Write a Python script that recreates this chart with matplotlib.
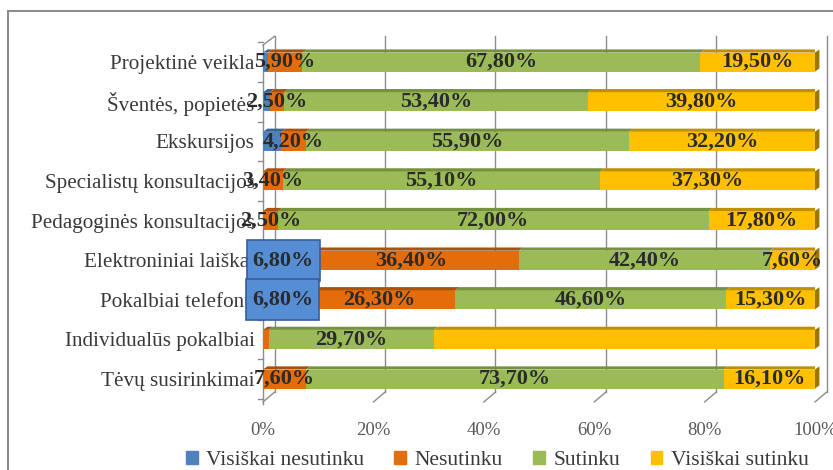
import matplotlib.pyplot as plt
import numpy as np
from matplotlib.patches import Polygon, Rectangle

categories = ['Projektinė veikla', 'Šventės, popietės', 'Ekskursijos',
              'Specialistų konsultacijos', 'Pedagoginės konsultacijos',
              'Elektroniniai laiškai', 'Pokalbiai telefonu',
              'Individualūs pokalbiai', 'Tėvų susirinkimai']
series = ['Visiškai nesutinku', 'Nesutinku', 'Sutinku', 'Visiškai sutinku']
visiskai_nesutinku = [0.8, 1.2, 3.2, 0.0, 0.0, 6.8, 6.8, 0.0, 0.0]
nesutinku = [5.9, 2.5, 4.2, 3.4, 2.5, 36.4, 26.3, 1.0, 7.6]
sutinku = [67.8, 53.4, 55.9, 55.1, 72.0, 42.4, 46.6, 29.7, 73.7]
visiskai_sutinku = [19.5, 39.8, 32.2, 37.3, 17.8, 7.6, 15.3, 68.6, 16.1]
x_ticks = [0, 20, 40, 60, 80, 100]

# labels that the original shows in a filled box / hides
boxed = ['Elektroniniai laiškai', 'Pokalbiai telefonu']
hidden = [('Individualūs pokalbiai', 'Visiškai sutinku')]

face_colors = ['#4F81BD', '#E46C0A', '#9BBB59', '#FFC000']
top_colors = ['#3A6298', '#A9520A', '#76923C', '#BF9000']
grid_color = '#8C8C8C'
label_color = '#2B2B2B'
serif = 'Liberation Serif'

values = np.array([visiskai_nesutinku, nesutinku, sutinku, visiskai_sutinku])
pct = values / values.sum(axis=0) * 100
n = len(categories)
ypos = np.arange(n)[::-1]

fig = plt.figure(figsize=(8.33, 4.70), dpi=100)
ax = fig.add_axes([263 / 833, 0.143, 552 / 833, 0.7797])
ax.set_xlim(0, 100)
ax.set_ylim(-0.6, 8.65)
for s in ax.spines.values():
    s.set_visible(False)

# back wall, floor and left wall
wall_dx = 2.1
floor_front, floor_back, wall_top = -0.58, -0.33, 8.65
for t in x_ticks:
    ax.plot([t + wall_dx, t + wall_dx], [floor_back, wall_top],
            color=grid_color, lw=1, zorder=0, clip_on=False)
    ax.plot([t, t + wall_dx], [floor_front, floor_back],
            color=grid_color, lw=1, zorder=0, clip_on=False)
ax.plot([0, 0], [floor_front - 0.05, wall_top - 0.22],
        color=grid_color, lw=1, zorder=0, clip_on=False)
ax.plot([0, wall_dx], [wall_top - 0.22, wall_top],
        color=grid_color, lw=1, zorder=0, clip_on=False)
for b in np.arange(n + 1) - 0.5:
    ax.plot([-0.9, 0], [b, b], color=grid_color, lw=1, clip_on=False)

# 3D stacked bars
h = 0.48
dx, dy = 0.8, 0.08
for i in range(n):
    y = ypos[i]
    left = 0
    for k in range(4):
        w = pct[k, i]
        if w <= 0:
            continue
        ax.barh(y, w, left=left, height=h, color=face_colors[k],
                zorder=2)
        top = y + h / 2
        ax.add_patch(Polygon([(left, top), (left + w, top),
                              (left + w + dx, top + dy),
                              (left + dx, top + dy)],
                             closed=True, color=top_colors[k], lw=0,
                             zorder=2))
        if k == 3:
            ax.add_patch(Polygon([(left + w, y - h / 2), (left + w, top),
                                  (left + w + dx, top + dy),
                                  (left + w + dx, y - h / 2 + dy)],
                                 closed=True, color='#9C7600', lw=0,
                                 zorder=2, clip_on=False))
        label = '{:.2f}%'.format(values[k, i]).replace('.', ',')
        cx = left + w / 2
        if k == 0:
            if categories[i] in boxed:
                ax.add_patch(Rectangle((cx - 6.6, y - 0.52), 13.2, 1.04,
                                       facecolor='#558ED5',
                                       edgecolor='#3A5C9C', lw=1.2,
                                       zorder=4, clip_on=False))
                ax.text(cx, y, label, ha='center', va='center',
                        fontsize=16, fontweight='bold', family=serif,
                        color=label_color, zorder=5)
        elif values[k, i] > 2 and (categories[i], series[k]) not in hidden:
            ax.text(cx, y, label, ha='center', va='center', fontsize=16,
                    fontweight='bold', family=serif, color=label_color,
                    zorder=5)
        left += w

ax.set_yticks(ypos)
ax.set_yticklabels(categories, family=serif, fontsize=15.2,
                   color='#3A3A3A')
ax.set_xticks(x_ticks)
ax.set_xticklabels(['{}%'.format(t) for t in x_ticks], family=serif,
                   fontsize=13.5, color='#595959')
ax.tick_params(axis='y', length=0, pad=6)
ax.tick_params(axis='x', length=0, pad=14)

handles = [Rectangle((0, 0), 1, 1, color=c) for c in face_colors]
fig.legend(handles, series, loc='center', bbox_to_anchor=(0.597, 0.02),
           ncol=4, frameon=False, handlelength=0.55, handleheight=0.55,
           handletextpad=0.4, columnspacing=1.4,
           prop={'family': serif, 'size': 15.5})
for t in fig.legends[0].get_texts():
    t.set_color('#3A3A3A')

fig.patches.append(Rectangle((8 / 833, -0.1), 1.2, 1 - 11 / 470 + 0.1,
                             transform=fig.transFigure, fill=False,
                             edgecolor='#8C8C8C', lw=1.5))
fig.savefig('out.png', dpi=100)
